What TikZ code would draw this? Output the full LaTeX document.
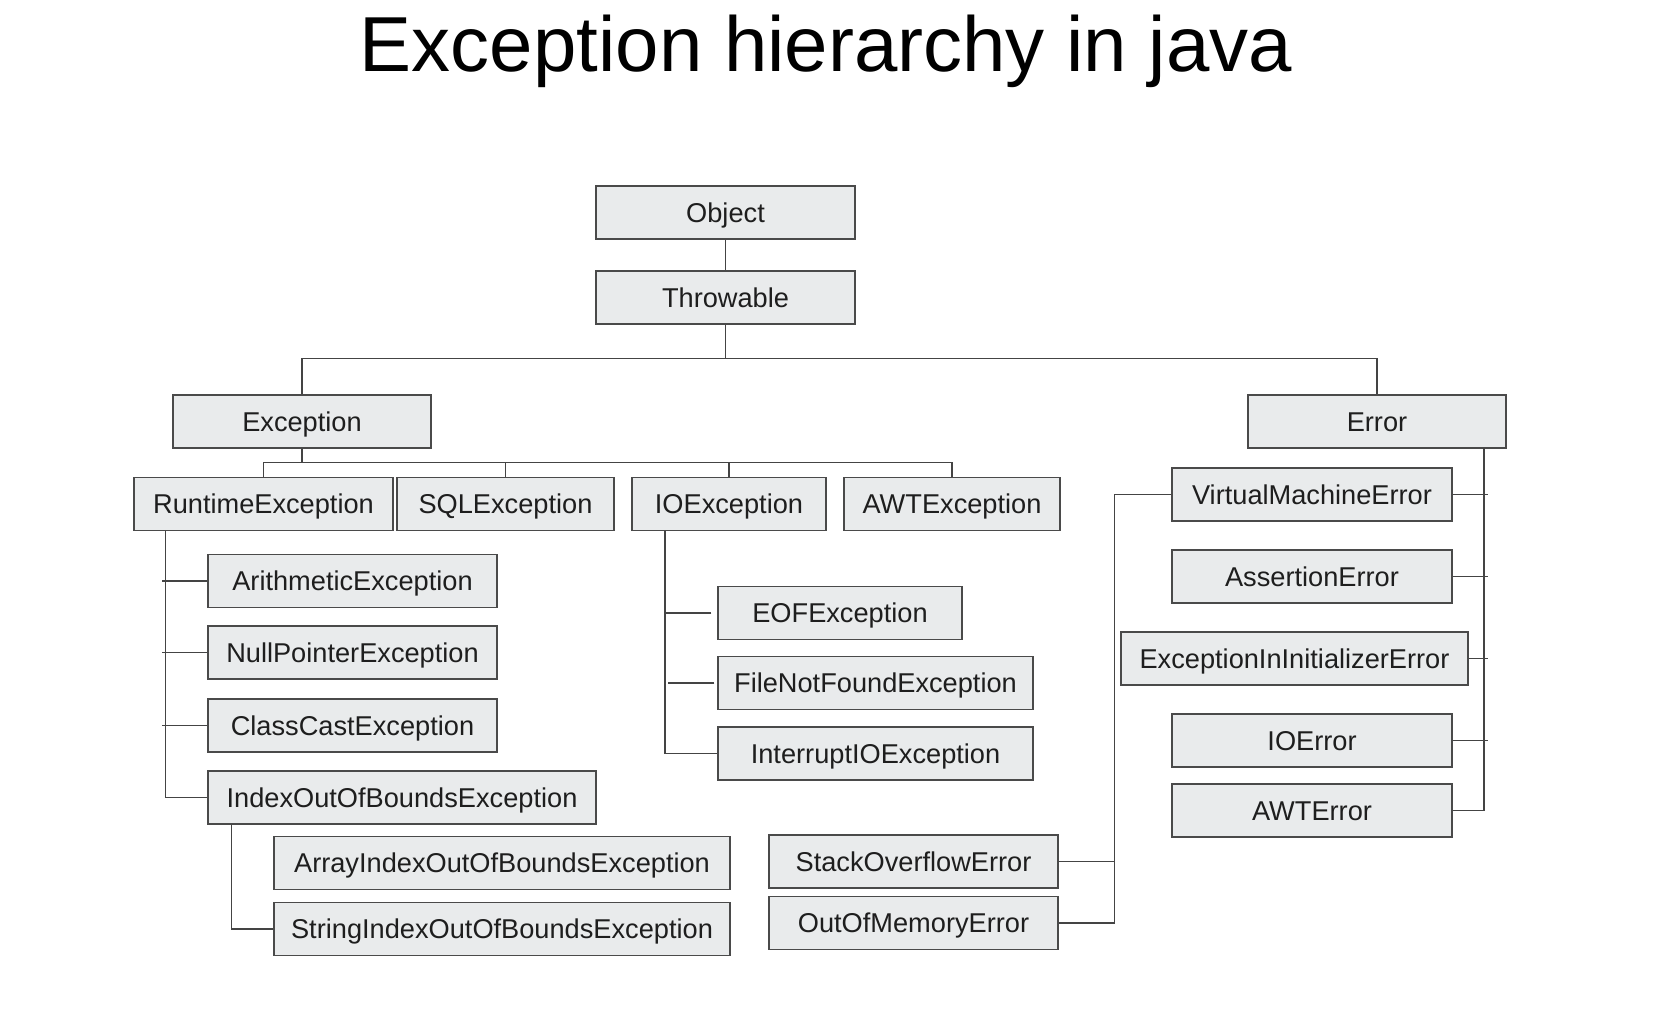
\documentclass[tikz,border=0pt]{standalone}
\usepackage{fontspec}
\setmainfont{Liberation Sans}
\usepackage{tikz}
\usetikzlibrary{positioning}
\definecolor{boxfill}{HTML}{E9EBEC}
\definecolor{boxline}{HTML}{4A4A4A}
\definecolor{linkcol}{HTML}{444444}
\definecolor{txtcol}{HTML}{1E1E1E}

\begin{document}
\begin{tikzpicture}[x=0.5pt, y=-0.5pt,
    cls/.style={draw=boxline, fill=boxfill, line width=0.7pt, inner sep=0pt,
        minimum height=26.5pt, text height=9.7pt, text depth=0pt,
        text=txtcol, font=\fontsize{13.6pt}{15pt}\selectfont},
    link/.style={draw=linkcol, line width=0.7pt}]
    \useasboundingbox (0,0) rectangle (1664,1016);

    % Title
    \node[anchor=base, font=\fontsize{39pt}{44pt}\selectfont] (title) at (826,72) {Exception hierarchy in java};

    % Root classes
    \node[cls, minimum width=129.5pt] (obj) at (725.5,212.5) {Object};
    \node[cls, minimum width=129.5pt] (thr) at (725.5,297.5) {Throwable};
    \node[cls, minimum width=129pt] (exc) at (302,421.5) {Exception};
    \node[cls, minimum width=129pt] (err) at (1377,421.5) {Error};

    % Exception subclasses
    \node[cls, minimum width=129.5pt] (rte) at (263.5,504) {RuntimeException};
    \node[cls, minimum width=108.5pt] (sql) at (505.5,504) {SQLException};
    \node[cls, minimum width=97pt] (ioe) at (729,504) {IOException};
    \node[cls, minimum width=108pt] (awt) at (952,504) {AWTException};

    % Runtime exceptions
    \node[cls, minimum width=144.5pt] (ari) at (352.5,581) {ArithmeticException};
    \node[cls, minimum width=144.5pt] (npe) at (352.5,652.5) {NullPointerException};
    \node[cls, minimum width=144.5pt] (cce) at (352.5,725.5) {ClassCastException};
    \node[cls, minimum width=194pt] (iob) at (402,797.5) {IndexOutOfBoundsException};
    \node[cls, minimum width=228pt] (aio) at (502,863) {ArrayIndexOutOfBoundsException};
    \node[cls, minimum width=228pt] (sio) at (502,929) {StringIndexOutOfBoundsException};

    % IO exceptions
    \node[cls, minimum width=122pt] (eof) at (840,613) {EOFException};
    \node[cls, minimum width=157.5pt] (fnf) at (875.5,683) {FileNotFoundException};
    \node[cls, minimum width=157.5pt] (iio) at (875.5,753.5) {InterruptIOException};

    % Errors
    \node[cls, minimum width=140pt] (vme) at (1312,494.5) {VirtualMachineError};
    \node[cls, minimum width=140pt] (ase) at (1312,576.5) {AssertionError};
    \node[cls, minimum width=173.5pt] (eii) at (1294.5,658.5) {ExceptionInInitializerError};
    \node[cls, minimum width=140pt] (ioer) at (1312,740.5) {IOError};
    \node[cls, minimum width=140pt] (awer) at (1312,810.5) {AWTError};
    \node[cls, minimum width=144.5pt] (soe) at (913.5,861.5) {StackOverflowError};
    \node[cls, minimum width=144.5pt] (oom) at (913.5,923) {OutOfMemoryError};

    % Trunk points
    \coordinate (tb) at (725.5,358.5);
    \coordinate (eb) at (302,462.5);
    \coordinate (rt) at (165.5,530.5);
    \coordinate (it) at (231.5,824);
    \coordinate (iot) at (665,530.5);
    \coordinate (ert) at (1484,448);
    \coordinate (vt) at (1114.5,923);

    % Top of tree
    \draw[link] (obj) -- (thr);
    \draw[link] (thr.south) -- (tb);
    \draw[link] (exc.north) |- (tb) -| (err.north);
    \draw[link] (exc.south) -- (eb);
    \draw[link] (rte.north) |- (eb) -| (awt.north);
    \draw[link] (sql.north) -- (sql.north |- eb);
    \draw[link] (ioe.north) -- (ioe.north |- eb);

    % Runtime branch
    \draw[link] (rt) |- (iob.west);
    \draw[link] (ari.west) -- ([xshift=-2pt]ari.west -| rt);
    \draw[link] (npe.west) -- ([xshift=-2pt]npe.west -| rt);
    \draw[link] (cce.west) -- ([xshift=-2pt]cce.west -| rt);
    \draw[link] (it) |- (sio.west);

    % IO branch
    \draw[link] (iot) |- (iio.west);
    \draw[link, shorten <=3pt] (eof.west) -- (eof.west -| iot);
    \draw[link, shorten <=1.5pt, shorten >=1.5pt] (fnf.west) -- (fnf.west -| iot);

    % Error branch
    \draw[link] (ert) |- (awer.east);
    \draw[link] (vme.east) -- ([xshift=2pt]vme.east -| ert);
    \draw[link] (ase.east) -- ([xshift=2pt]ase.east -| ert);
    \draw[link] (eii.east) -- ([xshift=2pt]eii.east -| ert);
    \draw[link] (ioer.east) -- ([xshift=2pt]ioer.east -| ert);
    \draw[link] (vme.west) -| (vt) -- (oom.east);
    \draw[link] (soe.east) -- (soe.east -| vt);
\end{tikzpicture}
\end{document}
